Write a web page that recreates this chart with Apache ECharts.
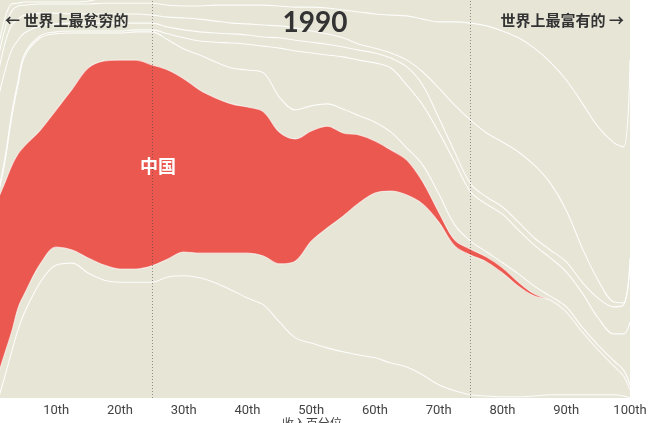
<!DOCTYPE html>
<html><head><meta charset="utf-8">
<script src="https://cdn.jsdelivr.net/npm/echarts@6/dist/echarts.min.js"></script>
<style>html,body{margin:0;padding:0;background:#fff}#c{width:650px;height:423px}</style>
</head><body><div id="c"></div>
<script>
// income percentile sample points
const percentiles = [1,2,3,4,5,7.5,10,12.5,15,17.5,20,22.5,25,27.5,30,32.5,35,37.5,40,42.5,45,47.5,50,52.5,55,57.5,60,62.5,65,67.5,70,72.5,75,77.5,80,82.5,85,87.5,90,92.5,95,97.5,99,100];
// cumulative (stacked) upper edges of each group, bottom to top
const edgeLowest = [0.3,5.8,11.6,17.1,21.4,29.1,33.4,33.9,31.4,29.6,29.1,29.1,29.1,30.4,30.7,30.2,28.9,27.1,25.1,23.4,19.1,15.1,13.8,12.6,11.6,10.8,10.1,8.8,7.8,5.8,3.3,1.8,0.8,0.5,0.3,0.3,0.5,0.8,0.8,0.8,0.8,0.8,0.5,0];
const edgeBelowChina = [6.5,11.6,16.6,22.6,26.1,33.7,37.9,37.2,35.2,33.4,32.4,32.4,33.2,34.9,36.7,36.4,36.4,36.4,36.4,35.7,33.7,34.4,39.4,42.7,45.7,49.0,51.5,52.0,51.0,48.7,44.2,38.2,35.9,34.2,31.4,28.1,25.6,24.6,21.6,16.6,12.1,8.0,5.5,2.0];
const edgeChina = [50.5,54.3,58.3,61.3,63.3,67.3,72.4,77.6,82.9,84.7,84.9,84.9,83.7,82.4,80.2,77.4,75.4,73.9,73.1,71.9,66.8,65.1,67.1,68.3,66.6,66.1,64.6,62.3,59.8,54.3,46.7,39.7,37.4,35.4,32.7,29.1,26.1,24.6,21.6,16.6,12.1,8.0,5.5,2.0];
const edgeU1 = [51.8,59.8,70.4,78.6,85.7,90.5,91.5,91.7,91.7,91.7,91.7,92.0,92.0,90.0,87.7,86.2,84.4,82.9,82.4,81.7,75.6,72.4,73.4,73.9,72.6,70.9,69.3,66.8,62.8,58.5,51.3,43.5,39.4,36.7,34.0,31.2,28.1,25.6,22.9,17.8,13.3,9.3,7.0,3.3];
const edgeU2 = [52.5,60.8,71.4,79.6,86.4,91.0,92.0,92.2,92.2,92.2,92.2,92.5,92.5,91.5,90.5,89.7,89.4,89.2,88.9,88.4,87.9,87.2,86.7,86.2,85.7,84.9,84.2,82.9,78.6,73.6,66.8,59.3,51.8,48.7,46.2,42.2,38.4,35.2,31.7,26.4,20.1,16.1,16.1,19.1];
const edgeU3 = [76.1,82.4,87.4,89.9,91.7,93.5,94.0,94.2,94.2,94.2,94.2,94.2,94.2,93.2,92.5,92.0,91.7,91.5,91.2,90.7,90.5,89.9,89.4,88.9,88.2,87.4,86.7,85.4,83.2,78.6,70.4,61.8,53.8,50.5,48.0,44.2,40.2,37.2,34.2,29.1,25.1,22.9,23.4,33.4];
const edgeU4 = [82.4,89.4,93.7,95.2,96.2,96.7,96.7,96.5,96.5,96.5,96.5,96.5,96.2,95.7,95.5,95.2,94.7,94.2,94.0,93.7,93.5,93.0,92.2,91.5,90.5,88.9,87.9,86.7,84.9,81.9,77.9,73.6,69.8,66.6,64.3,61.8,58.5,54.0,47.2,37.7,29.6,24.1,23.9,35.2];
const edgeU5 = [86.2,93.0,97.2,98.5,98.7,99.0,99.0,99.0,99.0,99.2,99.2,99.2,99.2,98.7,98.5,98.5,98.7,98.7,98.7,98.7,98.5,98.2,98.2,98.0,97.5,97.0,96.5,96.2,96.0,95.2,94.5,94.5,94.2,93.5,92.2,90.5,87.9,84.4,79.9,74.1,68.1,64.1,63.1,84.9];
const edgeTop = [88.7,95.7,99.0,99.2,99.5,99.5,99.5,99.5,99.7,100.8,102.5,102.5,102.5,102.5,102.5,102.5,102.5,102.5,102.5,102.5,102.5,102.5,102.5,102.5,102.5,102.5,102.5,102.5,102.5,102.5,102.5,102.5,102.5,102.5,102.5,102.5,102.5,102.5,102.5,102.5,102.5,102.5,102.5,102.5];
const groupNames = ['其他1','其他2','中国','其他3','其他4','其他5','其他6','其他7','其他8'];
const markedPercentiles = [25, 75];
const yearText = '1990';
const leftText = '← 世界上最贫穷的';
const rightText = '世界上最富有的 →';
const chinaLabel = '中国';
const axisName = '收入百分位';

const BEIGE = '#e7e5d6', RED = '#eb5850';
const edges = [edgeLowest, edgeBelowChina, edgeChina, edgeU1, edgeU2, edgeU3, edgeU4, edgeU5, edgeTop];
// draw from the top edge down; each lower group's fill paints over the ones above it
const series = [];
for (let k = edges.length - 1; k >= 0; k--) {
  const isChina = groupNames[k] === '中国';
  series.push({
    type: 'line', name: groupNames[k], smooth: 0.35, symbol: 'none', silent: true,
    data: percentiles.map((p, i) => [p, edges[k][i]]),
    lineStyle: { color: '#ffffff', width: 1.1, opacity: (k === 1 || isChina) ? 0.6 : 0.9 },
    areaStyle: { color: isChina ? RED : BEIGE, opacity: 1, origin: 'start' },
    clip: true
  });
}
series.push({
  type: 'line', data: [], silent: true, z: 10,
  markLine: { symbol: 'none', silent: true, label: { show: false },
    lineStyle: { color: 'rgba(70,70,70,0.55)', type: [1, 2], width: 1 },
    data: markedPercentiles.map(v => ({ xAxis: v })) }
});

const chart = echarts.init(document.getElementById('c'), null, { renderer: 'canvas' });
chart.setOption({
  animation: false,
  grid: { left: -7.5, top: 0, width: 637.5, height: 398, show: true, backgroundColor: BEIGE, borderWidth: 0, containLabel: false, outerBoundsMode: 'none' },
  xAxis: { type: 'value', min: 0, max: 100, interval: 10,
    axisLine: { show: false }, axisTick: { show: false }, splitLine: { show: false },
    axisLabel: { formatter: v => v ? v + 'th' : '', color: '#444', fontSize: 13, fontFamily: 'Roboto', margin: 6 } },
  yAxis: { type: 'value', min: 0, max: 100, show: false },
  series,
  graphic: [
    { type: 'text', x: 315, y: 23, z: 20, style: { text: yearText, fill: '#333', font: 'bold 28px Lato', align: 'center', verticalAlign: 'middle' } },
    { type: 'text', left: 5, top: 13, z: 20, style: { text: leftText, fill: '#333', font: 'bold 15px "Noto Sans CJK SC"' } },
    { type: 'text', right: 26, top: 13, z: 20, style: { text: rightText, fill: '#333', font: 'bold 15px "Noto Sans CJK SC"' } },
    { type: 'text', left: 140, top: 157, z: 20, style: { text: chinaLabel, fill: '#fff', font: 'bold 18px "Noto Sans CJK SC"' } },
    { type: 'text', x: 312, y: 417, z: 20, style: { text: axisName, fill: '#444', font: '12px "Noto Sans CJK SC"', align: 'center', verticalAlign: 'top' } }
  ]
});
</script></body></html>
